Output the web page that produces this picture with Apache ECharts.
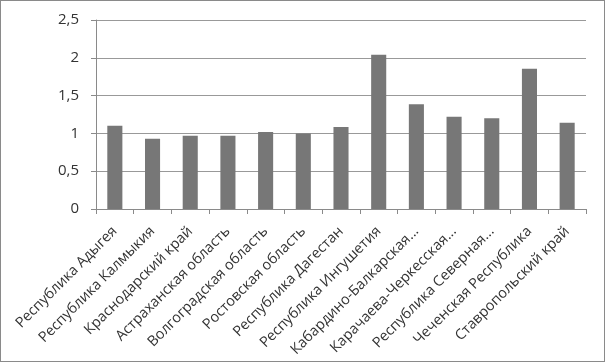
<!DOCTYPE html>
<html>
<head>
<meta charset="utf-8">
<script src="https://cdn.jsdelivr.net/npm/echarts@6/dist/echarts.min.js"></script>
<style>
  html, body { margin: 0; padding: 0; background: #fff; }
  #chart { width: 605px; height: 362px; box-sizing: border-box; border: 1px solid #8a8a8a; }
</style>
</head>
<body>
<div id="chart"></div>
<script>
const regions = [
  'Республика Адыгея',
  'Республика Калмыкия',
  'Краснодарский край',
  'Астраханская область',
  'Волгоградская область',
  'Ростовская область',
  'Республика Дагестан',
  'Республика Ингушетия',
  'Кабардино-Балкарская...',
  'Карачаева-Черкесская...',
  'Республика Северная...',
  'Чеченская Республика',
  'Ставропольский край'
]
const values = [1.1, 0.93, 0.97, 0.97, 1.02, 1.0, 1.085, 2.04, 1.385, 1.22, 1.2, 1.855, 1.14]

const chart = echarts.init(document.getElementById('chart'), null, { renderer: 'canvas' })

chart.setOption({
  animation: false,
  grid: { left: 95, right: 18, top: 19, bottom: 152, containLabel: false },
  xAxis: {
    type: 'category',
    data: regions,
    boundaryGap: true,
    axisLine: { lineStyle: { color: '#8a8a8a' } },
    axisTick: { show: true, length: 5, lineStyle: { color: '#8a8a8a' } },
    axisLabel: {
      interval: 0,
      rotate: 45,
      color: '#333',
      fontFamily: 'Open Sans',
      fontSize: 14.5,
      margin: 20
    }
  },
  yAxis: {
    type: 'value',
    min: 0,
    max: 2.5,
    interval: 0.5,
    axisLine: { show: true, lineStyle: { color: '#8a8a8a' } },
    axisTick: { show: true, length: 5, lineStyle: { color: '#8a8a8a' } },
    splitLine: { lineStyle: { color: '#999' } },
    axisLabel: {
      color: '#333',
      fontFamily: 'Open Sans',
      fontSize: 15,
      margin: 17,
      formatter: (v) => String(v).replace('.', ',')
    }
  },
  series: [{
    type: 'bar',
    data: values,
    barWidth: '40%',
    itemStyle: { color: '#777777' }
  }]
})
</script>
</body>
</html>
